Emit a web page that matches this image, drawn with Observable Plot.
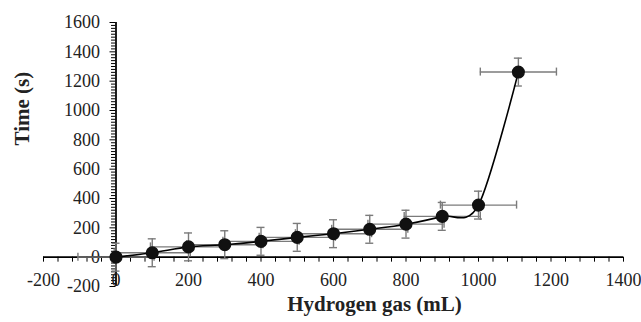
<!DOCTYPE html>
<html><head><meta charset="utf-8">
<script src="https://cdn.jsdelivr.net/npm/d3@7"></script>
<script src="https://cdn.jsdelivr.net/npm/@observablehq/plot@0.6"></script>
<style>body{margin:0;background:#fff}#chart svg{display:block}</style>
</head><body><div id="chart"></div>
<script>
const hydrogen = [0, 100, 200, 300, 400, 500, 600, 700, 800, 900, 1000, 1110];
const time = [0, 30, 70, 85, 108, 135, 160, 190, 225, 278, 355, 1262];
const hydrogenErr = [105, 105, 105, 105, 105, 105, 105, 105, 105, 105, 105, 105];
const timeErr = [95, 95, 95, 95, 95, 95, 95, 95, 95, 95, 95, 95];
const xTickValues = [-200, 0, 200, 400, 600, 800, 1000, 1200, 1400];
const yTickValues = [-200, 0, 200, 400, 600, 800, 1000, 1200, 1400, 1600];
const xTitle = "Hydrogen gas (mL)";
const yTitle = "Time (s)";

const W = 641, H = 322, mL = 43, mR = 18, mT = 22, mB = 36;
const xDomain = [-200, 1400], yDomain = [-200, 1600];
const ux = (W - mL - mR) / (xDomain[1] - xDomain[0]);
const uy = (H - mT - mB) / (yDomain[1] - yDomain[0]);
const data = hydrogen.map((h, i) => ({h, t: time[i], he: hydrogenErr[i], te: timeErr[i]}));
const xMinor = d3.range(xDomain[0], xDomain[1] + 1, 40);
const yMinor = d3.range(yDomain[0], yDomain[1] + 1, 20);
const font = "'Liberation Serif', 'Times New Roman', serif";
const gray = "#7b7b7b";
const capX = 4 / ux, capY = 4 / uy;

const chart = Plot.plot({
  width: W, height: H,
  marginLeft: mL, marginRight: mR, marginTop: mT, marginBottom: mB,
  x: {domain: xDomain, axis: null},
  y: {domain: yDomain, axis: null},
  style: {fontFamily: font, background: "#fff"},
  marks: [
    // axes
    Plot.ruleY([0], {x1: xDomain[0], x2: xDomain[1], stroke: "#000", strokeWidth: 1.75}),
    Plot.ruleX([0], {y1: yDomain[0], y2: yDomain[1], stroke: "#000", strokeWidth: 1.75}),
    Plot.ruleX(xMinor, {x: d => d, y1: 0, y2: -5 / uy, stroke: "#000", strokeWidth: 1}),
    Plot.ruleY(yMinor, {y: d => d, x1: 0, x2: d => -(d % 200 === 0 ? 6 : 4.5) / ux, stroke: "#000", strokeWidth: 1}),
    Plot.text(xTickValues, {x: d => d, y: 0, dy: 23, text: d => d.toString(), fontSize: 18, fill: "#222"}),
    Plot.text(yTickValues, {x: 0, y: d => d, dx: -16, text: d => d.toString(), textAnchor: "end", fontSize: 18, fill: "#222"}),
    // error bars
    Plot.ruleX(data, {x: "h", y1: d => d.t - d.te, y2: d => d.t + d.te, stroke: gray, strokeWidth: 1.4}),
    Plot.ruleY(data, {y: d => d.t + d.te, x1: d => d.h - capX, x2: d => d.h + capX, stroke: gray, strokeWidth: 1.4}),
    Plot.ruleY(data, {y: d => d.t - d.te, x1: d => d.h - capX, x2: d => d.h + capX, stroke: gray, strokeWidth: 1.4}),
    Plot.ruleY(data, {y: "t", x1: d => d.h - d.he, x2: d => d.h + d.he, stroke: gray, strokeWidth: 1.4}),
    Plot.ruleX(data, {x: d => d.h - d.he, y1: d => d.t - capY, y2: d => d.t + capY, stroke: gray, strokeWidth: 1.4}),
    Plot.ruleX(data, {x: d => d.h + d.he, y1: d => d.t - capY, y2: d => d.t + capY, stroke: gray, strokeWidth: 1.4}),
    // series
    Plot.line(data, {x: "h", y: "t", curve: "cardinal", tension: 0.1, stroke: "#000", strokeWidth: 1.6}),
    Plot.dot(data, {x: "h", y: "t", r: 5.8, fill: "#111", stroke: "#111"}),
    // titles
    Plot.text([xTitle], {frameAnchor: "bottom", dx: 41, dy: 24, text: d => d, fontSize: 21, fontWeight: "bold", fill: "#222"}),
    Plot.text([yTitle], {frameAnchor: "left", dx: -21.5, dy: -9, rotate: -90, text: d => d, fontSize: 21, fontWeight: "bold", fill: "#222"})
  ]
});
document.getElementById("chart").append(chart);
</script>
</body></html>
